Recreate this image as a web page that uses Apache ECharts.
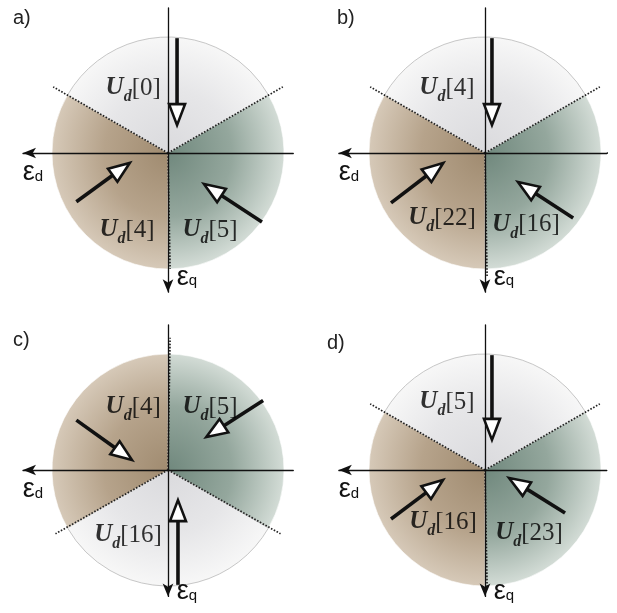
<!DOCTYPE html>
<html><head><meta charset="utf-8">
<script src="https://cdn.jsdelivr.net/npm/echarts@6/dist/echarts.min.js"></script>
<style>html,body{margin:0;padding:0;background:#fff}#c{width:617px;height:613px}</style>
</head><body><div id="c"></div>
<script>
// ---------------- data ----------------
const panelTitles = ['a)', 'b)', 'c)', 'd)'];
// three equal 120° sectors per panel, listed clockwise from the start angle
const sectorValues = [1, 1, 1];
const sectorStartAngles = [150, 150, 90, 150];
const sectorKindsA = ['light', 'green', 'brown'];
const sectorKindsB = ['light', 'green', 'brown'];
const sectorKindsC = ['green', 'light', 'brown'];
const sectorKindsD = ['light', 'green', 'brown'];
// axes: x = εd (positive to the left), y = εq (positive downwards), unit = circle radius
// sector boundary end points (start at the origin)
const boundariesA = [[0.99, -0.57], [-0.99, -0.57], [-0.018, 1.0]];
const boundariesB = [[0.99, -0.57], [-0.99, -0.57], [-0.018, 1.06]];
const boundariesC = [[0.97, 0.55], [-0.97, 0.55], [-0.018, -1.14]];
const boundariesD = [[0.99, -0.57], [-0.99, -0.57], [-0.018, 1.0]];
// voltage vector arrows: [x start, y start, x tip, y tip]
const arrowsA = [[-0.078, -0.99, -0.078, -0.24], [0.79, 0.42, 0.33, 0.086], [-0.81, 0.595, -0.31, 0.267]];
const arrowsB = [[-0.06, -0.99, -0.06, -0.24], [0.81, 0.43, 0.36, 0.086], [-0.76, 0.56, -0.284, 0.25]];
const arrowsC = [[0.79, -0.43, 0.31, -0.086], [-0.82, -0.60, -0.33, -0.284], [-0.086, 0.99, -0.086, 0.26]];
const arrowsD = [[-0.06, -0.99, -0.06, -0.26], [0.81, 0.422, 0.362, 0.086], [-0.69, 0.37, -0.207, 0.069]];
// vector labels U_d[n]: [x, y, n]
const labelsA = [[0.30, -0.56, 0], [0.353, 0.664, 4], [-0.362, 0.664, 5]];
const labelsB = [[0.328, -0.56, 4], [0.37, 0.56, 22], [-0.353, 0.62, 16]];
const labelsC = [[0.30, -0.543, 4], [-0.362, -0.543, 5], [0.345, 0.56, 16]];
const labelsD = [[0.328, -0.586, 5], [0.362, 0.448, 16], [-0.38, 0.543, 23]];
const axisNameD = '{e|ε}{s|d}';
const axisNameQ = '{e|ε}{s|q}';

// ---------------- layout / style ----------------
const sectorKinds = [sectorKindsA, sectorKindsB, sectorKindsC, sectorKindsD];
const boundaries = [boundariesA, boundariesB, boundariesC, boundariesD];
const arrows = [arrowsA, arrowsB, arrowsC, arrowsD];
const labels = [labelsA, labelsB, labelsC, labelsD];
const R = 116;
const centers = [[168, 153], [485, 153], [168, 470], [485, 470]];
const xRange = [[-1.08, 1.25], [-1.05, 1.26], [-1.08, 1.25], [-1.05, 1.26]];
const yRange = [[-1.25, 1.2], [-1.25, 1.2], [-1.25, 1.09], [-1.25, 1.09]];
const dNameGap = [-10, -10, -10, -10];
const qNameGap = [-15, -15, -4.5, -4.5];
const titlePos = [[13, 8], [337, 8], [13, 330], [327, 333]];
const kindStops = {
  light: ['#dadadd', '#e6e6e8', '#f7f7f7'],
  brown: ['#a08b70', '#b6a38b', '#d6c9b8'],
  green: ['#70887d', '#94a79d', '#d3dcd6']
};
const ink = '#111';

function drawArrow(params, api) {
  const p1 = api.coord([api.value(0), api.value(1)]);
  const p2 = api.coord([api.value(2), api.value(3)]);
  const dx = p2[0] - p1[0], dy = p2[1] - p1[1];
  const len = Math.hypot(dx, dy), ux = dx / len, uy = dy / len;
  const L = 21, W = 8;
  const base = [p2[0] - ux * L, p2[1] - uy * L];
  const a = [base[0] - uy * W, base[1] + ux * W];
  const b = [base[0] + uy * W, base[1] - ux * W];
  return {
    type: 'group',
    children: [
      { type: 'line', shape: { x1: p1[0], y1: p1[1], x2: base[0], y2: base[1] }, style: { stroke: ink, lineWidth: 3.6 } },
      { type: 'polygon', shape: { points: [p2, a, b] }, style: { fill: '#fff', stroke: ink, lineWidth: 2.6, lineJoin: 'miter' } }
    ]
  };
}

const labelRich = {
  U: { fontFamily: 'Liberation Serif', fontStyle: 'italic', fontWeight: 'bold', fontSize: 25, color: '#000', textBorderWidth: 0 },
  d: { fontFamily: 'Liberation Serif', fontStyle: 'italic', fontWeight: 'bold', fontSize: 16, color: '#000', textBorderWidth: 0, padding: [18, 0, 0, 0] },
  b: { fontFamily: 'Liberation Serif', fontSize: 25, color: '#000', textBorderWidth: 0 }
};
const epsRich = {
  e: { fontFamily: 'Liberation Sans', fontSize: 27, color: ink },
  s: { fontFamily: 'Liberation Sans', fontSize: 15, color: ink, padding: [8, 0, 0, 0] }
};

const option = { animation: false, backgroundColor: '#fff', title: [], grid: [], xAxis: [], yAxis: [], series: [] };

for (let i = 0; i < 4; i++) {
  const [cx, cy] = centers[i];
  const [xmin, xmax] = xRange[i];
  const [ymin, ymax] = yRange[i];
  option.title.push({
    text: panelTitles[i], left: titlePos[i][0], top: titlePos[i][1], padding: 0,
    textStyle: { fontFamily: 'Liberation Sans', fontSize: 20, fontWeight: 'normal', color: '#222' }
  });
  option.grid.push({ left: cx - xmax * R, top: cy + ymin * R, width: (xmax - xmin) * R, height: (ymax - ymin) * R });
  const axisCommon = {
    gridIndex: i, type: 'value', inverse: true, z: 4,
    axisLine: { show: true, onZero: true, symbol: ['arrow', 'none'], symbolSize: [8, 13], lineStyle: { color: ink, width: 1.3 } },
    axisTick: { show: false }, axisLabel: { show: false }, splitLine: { show: false }, nameLocation: 'end'
  };
  option.xAxis.push(Object.assign({}, axisCommon, {
    min: xmin, max: xmax, name: axisNameD, nameGap: dNameGap[i],
    nameTextStyle: { align: 'center', verticalAlign: 'middle', padding: [40, 0, 0, 0], rich: epsRich }
  }));
  option.yAxis.push(Object.assign({}, axisCommon, {
    min: ymin, max: ymax, name: axisNameQ, nameGap: qNameGap[i],
    nameTextStyle: { align: 'center', verticalAlign: 'middle', padding: [0, 0, 0, 38], rich: epsRich }
  }));
  option.series.push({
    type: 'pie', silent: true, z: 1, center: [cx, cy], radius: [0, R],
    startAngle: sectorStartAngles[i], clockwise: true, label: { show: false }, labelLine: { show: false },
    data: sectorKinds[i].map((k, j) => ({
      value: sectorValues[j], name: k,
      itemStyle: {
        color: { type: 'radial', x: cx, y: cy, r: R, global: true,
          colorStops: [{ offset: 0, color: kindStops[k][0] }, { offset: 0.55, color: kindStops[k][1] }, { offset: 1, color: kindStops[k][2] }] },
        borderColor: k === 'light' ? 'rgba(185,185,185,0.8)' : 'rgba(255,255,255,0.6)', borderWidth: 1
      }
    }))
  });
  const bData = boundaries[i].map(e => ({ coords: [[0, 0], [e[0], e[1]]] }));
  if (i === 1) bData.push({ coords: [[-1.05, 0], [-1.12, 0]] });
  option.series.push({
    type: 'lines', coordinateSystem: 'cartesian2d', xAxisIndex: i, yAxisIndex: i, z: 3, silent: true,
    data: bData, lineStyle: { color: '#222', width: 1.7, type: [1.6, 1.6], opacity: 1, curveness: 0 }
  });
  option.series.push({
    type: 'custom', coordinateSystem: 'cartesian2d', xAxisIndex: i, yAxisIndex: i, z: 5, silent: true, clip: false,
    data: arrows[i], encode: { x: [0, 2], y: [1, 3] }, renderItem: drawArrow
  });
  option.series.push({
    type: 'scatter', xAxisIndex: i, yAxisIndex: i, z: 6, silent: true, symbolSize: 0,
    data: labels[i],
    label: { show: true, position: 'inside', color: '#000', textBorderWidth: 0, textBorderColor: 'transparent',
      formatter: p => '{U|U}{d|d}{b|[' + p.value[2] + ']}', rich: labelRich }
  });
}

const chart = echarts.init(document.getElementById('c'), null, { renderer: 'canvas' });
chart.setOption(option);
</script></body></html>
